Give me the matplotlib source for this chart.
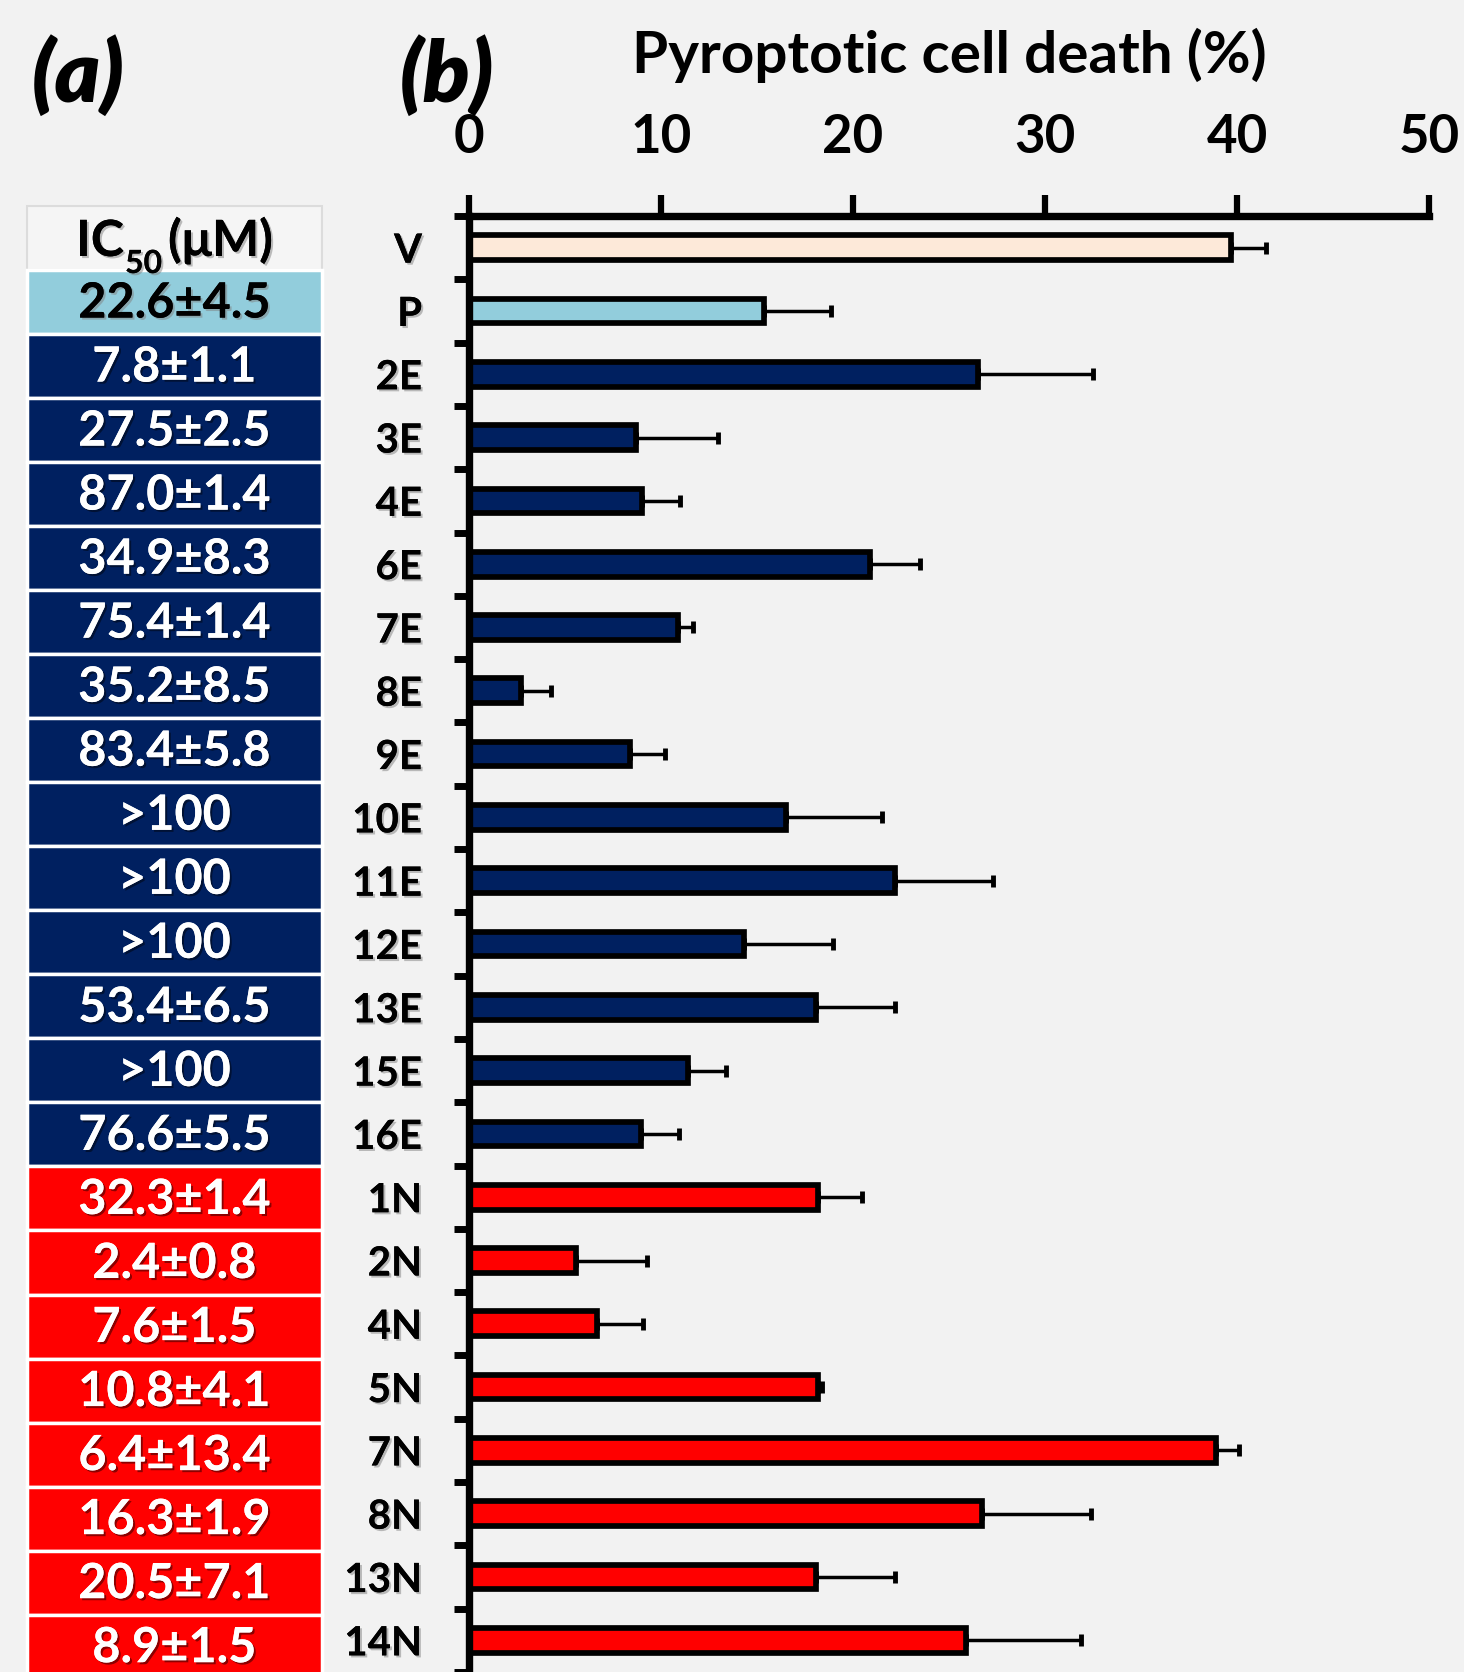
import matplotlib
matplotlib.use("Agg")
import matplotlib.pyplot as plt
import matplotlib.patheffects as pe
from matplotlib.patches import Rectangle
import numpy as np

plt.rcParams['font.family'] = ['Lato', 'DejaVu Sans']

# ---------------- data ----------------
categories = ['V', 'P', '2E', '3E', '4E', '6E', '7E', '8E', '9E', '10E', '11E',
              '12E', '13E', '15E', '16E', '1N', '2N', '4N', '5N', '7N', '8N',
              '13N', '14N']
death_pct = [39.7, 15.4, 26.5, 8.7, 9.0, 20.9, 10.9, 2.7, 8.4, 16.5, 22.2,
             14.35, 18.1, 11.4, 8.95, 18.2, 5.6, 6.7, 18.2, 38.9, 26.7,
             18.1, 25.9]
death_err = [1.8, 3.45, 6.0, 4.3, 2.0, 2.6, 0.8, 1.6, 1.8, 5.0, 5.1,
             4.6, 4.1, 2.0, 2.0, 2.3, 3.7, 2.4, 0.2, 1.2, 5.7,
             4.1, 6.0]
groups = ['V', 'P'] + ['E'] * 13 + ['N'] * 8
ic50_labels = ['22.6±4.5', '7.8±1.1', '27.5±2.5', '87.0±1.4', '34.9±8.3',
               '75.4±1.4', '35.2±8.5', '83.4±5.8', '>100', '>100', '>100',
               '53.4±6.5', '>100', '76.6±5.5', '32.3±1.4', '2.4±0.8',
               '7.6±1.5', '10.8±4.1', '6.4±13.4', '16.3±1.9', '20.5±7.1',
               '8.9±1.5']
ic50_groups = ['P'] + ['E'] * 13 + ['N'] * 8
x_ticks = [0, 10, 20, 30, 40, 50]

group_colors = {'V': '#fde9d9', 'P': '#92cddc', 'E': '#002060', 'N': '#ff0000'}
text_colors = {'P': 'black', 'E': 'white', 'N': 'white'}

BG = '#f2f2f2'
W, H = 1464, 1672
fig = plt.figure(figsize=(W / 100, H / 100), dpi=100, facecolor=BG)

shadow_dark = [pe.withSimplePatchShadow(offset=(1.5, -1.5), shadow_rgbFace='black', alpha=0.45), pe.Normal()]
shadow_light = [pe.withSimplePatchShadow(offset=(1.5, -1.5), shadow_rgbFace='gray', alpha=0.5), pe.Normal()]

# ---------------- overlay (pixel coords) ----------------
ax0 = fig.add_axes([0, 0, 1, 1])
ax0.set_xlim(0, W)
ax0.set_ylim(H, 0)
ax0.axis('off')
ax0.set_facecolor('none')

ax0.text(78, 76, '(a)', fontsize=62, fontweight='heavy', style='italic',
         ha='center', va='center')
ax0.text(447, 76, '(b)', fontsize=62, fontweight='heavy', style='italic',
         ha='center', va='center')
ax0.text(949, 55, 'Pyroptotic cell death (%)', fontsize=42, fontweight='bold',
         ha='center', va='center')

# table
tx0, tx1 = 27, 322
row_h = 64.03
top0 = 206
ax0.add_patch(Rectangle((tx0, top0), tx1 - tx0, row_h, facecolor='#f5f5f5',
                        edgecolor='#dcdcdc', lw=1.5, zorder=1))
hdr = dict(fontweight='bold', va='baseline', ha='left', path_effects=shadow_light, zorder=3)
ax0.text(76, 256, 'IC', fontsize=36, **hdr)
ax0.text(125, 273, '50', fontsize=23, **hdr)
ax0.text(168, 256, '(μM)', fontsize=36, **hdr)
for i, (lab, g) in enumerate(zip(ic50_labels, ic50_groups)):
    y = top0 + row_h * (i + 1)
    ax0.add_patch(Rectangle((tx0, y), tx1 - tx0, row_h, facecolor=group_colors[g],
                            edgecolor='white', lw=2.5, zorder=2))
    ax0.text((tx0 + tx1) / 2, y + row_h / 2 + 1, lab, fontsize=35, fontweight='bold',
             color=text_colors[g], ha='center', va='center',
             path_effects=shadow_dark if g != 'P' else shadow_light, zorder=3)

# ---------------- bar chart ----------------
x0px, x50px = 468.7, 1429
left = x0px / W
right = x50px / W
top = 1 - 216 / H
ax = fig.add_axes([left, 0, right - left, top])
ax.set_facecolor('none')
ypos = np.arange(len(categories))
ax.barh(ypos, death_pct, height=0.39, color=[group_colors[g] for g in groups],
        edgecolor='black', linewidth=4.1, zorder=2)
ax.errorbar(death_pct, ypos, xerr=[np.zeros(len(death_err)), death_err], fmt='none',
            ecolor='black', elinewidth=2.5, capsize=4.2, capthick=3.5, zorder=1)

ax.set_xlim(0, 50)
ax.set_ylim(22.335, -0.5)
ax.xaxis.tick_top()
ax.set_xticks(x_ticks)
ax.set_xticklabels([str(t) for t in x_ticks])
ax.tick_params(axis='x', which='major', direction='out', length=15, width=4.5,
               pad=24, labelsize=38)
for lbl in ax.get_xticklabels():
    lbl.set_fontweight('bold')

ax.set_yticks(ypos)
ax.set_yticklabels(categories)
ax.set_yticks(np.arange(-0.5, len(categories), 1.0), minor=True)
ax.tick_params(axis='y', which='major', length=0, pad=33.6, labelsize=29)
ax.tick_params(axis='y', which='minor', length=11, width=5, direction='out')
for lbl in ax.get_yticklabels():
    lbl.set_fontweight('bold')
    lbl.set_path_effects(shadow_light)

for s in ['right', 'bottom']:
    ax.spines[s].set_visible(False)
ax.spines['top'].set_linewidth(5.3)
ax.spines['left'].set_linewidth(5.3)

fig.savefig('out.png', dpi=100, facecolor=BG)
